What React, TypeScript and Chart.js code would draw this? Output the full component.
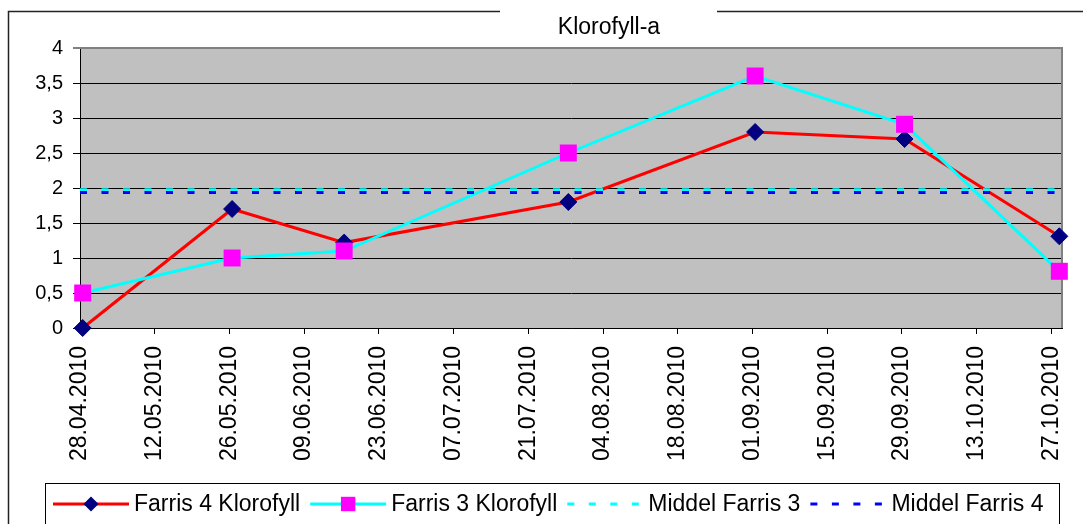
import React, { useEffect, useRef } from 'react';
import { Chart, registerables } from 'chart.js';

Chart.register(...registerables);

// ---------- data ----------
const chartTitle = 'Klorofyll-a';
const seriesLabels = ['Farris 4 Klorofyll', 'Farris 3 Klorofyll', 'Middel Farris 3', 'Middel Farris 4'];
const sampleDates = ['28.04.2010', '26.05.2010', '16.06.2010', '28.07.2010', '01.09.2010', '29.09.2010', '28.10.2010'];
const farris4 = [0, 1.7, 1.22, 1.8, 2.8, 2.7, 1.31];
const farris3 = [0.5, 1.0, 1.1, 2.5, 3.6, 2.91, 0.81];
const middelFarris3 = 1.975;
const middelFarris4 = 1.935;
const tickDates = [
  '28.04.2010', '12.05.2010', '26.05.2010', '09.06.2010', '23.06.2010', '07.07.2010', '21.07.2010',
  '04.08.2010', '18.08.2010', '01.09.2010', '15.09.2010', '29.09.2010', '13.10.2010', '27.10.2010',
];
const axisEndDate = '29.10.2010';
const yMin = 0;
const yMax = 4;
const yStep = 0.5;

// ---------- helpers ----------
const FONT = "'Liberation Sans', Arial, sans-serif";
function dayNumber(d: string) {
  const [dd, mm, yy] = d.split('.').map(Number);
  return Date.UTC(yy, mm - 1, dd) / 86400000;
}
const day0 = dayNumber(tickDates[0]);
const toX = (d: string) => dayNumber(d) - day0;
// points sit in the middle of their day, as on a date axis
const pointX = (d: string) => toX(d) + 0.5;
const xMin = 0;
const xMax = toX(axisEndDate);
const tickLabelByX: Record<number, string> = {};
tickDates.forEach((d) => { tickLabelByX[toX(d)] = d; });

const plotBg = {
  id: 'plotBg',
  beforeDraw(chart: any) {
    const { ctx, chartArea: a } = chart;
    ctx.save();
    ctx.fillStyle = '#ffffff';
    ctx.fillRect(0, 0, chart.width, chart.height);
    ctx.fillStyle = '#C0C0C0';
    ctx.fillRect(a.left, a.top, a.right - a.left, a.bottom - a.top);
    ctx.restore();
  },
  beforeDatasetsDraw(chart: any) {
    const { ctx, chartArea: a } = chart;
    ctx.save();
    ctx.strokeStyle = '#808080';
    ctx.lineWidth = 2;
    ctx.beginPath();
    ctx.moveTo(a.left, a.top);
    ctx.lineTo(a.right, a.top);
    ctx.lineTo(a.right, a.bottom);
    ctx.stroke();
    ctx.restore();
  },
};

function drawMarker(ctx: CanvasRenderingContext2D, style: string, x: number, y: number, r: number, color: string) {
  ctx.fillStyle = color;
  ctx.beginPath();
  if (style === 'rectRot') {
    ctx.moveTo(x, y - r);
    ctx.lineTo(x + r, y);
    ctx.lineTo(x, y + r);
    ctx.lineTo(x - r, y);
    ctx.closePath();
  } else {
    ctx.rect(x - r, y - r, 2 * r, 2 * r);
  }
  ctx.fill();
}

const decor = {
  id: 'decor',
  afterDraw(chart: any) {
    const { ctx } = chart;
    ctx.save();
    // outer frame
    ctx.strokeStyle = '#222';
    ctx.lineWidth = 1.5;
    ctx.beginPath();
    ctx.moveTo(8.5, 524);
    ctx.lineTo(8.5, 11.5);
    ctx.lineTo(500, 11.5);
    ctx.moveTo(717, 11.5);
    ctx.lineTo(1083, 11.5);
    ctx.stroke();

    // title
    ctx.fillStyle = '#000';
    ctx.font = `23px ${FONT}`;
    ctx.textAlign = 'center';
    ctx.textBaseline = 'alphabetic';
    ctx.fillText(chartTitle, 609, 34);

    // legend
    ctx.strokeStyle = '#000';
    ctx.lineWidth = 1;
    ctx.strokeRect(45.5, 483.5, 1014, 60);
    ctx.textAlign = 'left';
    const sy = 504;
    let x = 53;
    chart.data.datasets.forEach((ds: any) => {
      const w = 76;
      ctx.save();
      ctx.strokeStyle = ds.borderColor;
      ctx.lineWidth = 3;
      ctx.setLineDash(ds.borderDash || []);
      ctx.beginPath();
      ctx.moveTo(x, sy);
      ctx.lineTo(x + w, sy);
      ctx.stroke();
      ctx.restore();
      if (ds.pointRadius > 0) {
        drawMarker(ctx, ds.pointStyle, x + w / 2, sy, ds.pointStyle === 'rectRot' ? 7.5 : 7.2, ds.pointBackgroundColor);
      }
      ctx.fillStyle = '#000';
      ctx.fillText(ds.label, x + w + 5, 511);
      x = x + w + 5 + ctx.measureText(ds.label).width + 10;
    });
    ctx.restore();
  },
};

export default function App() {
  const ref = useRef<HTMLCanvasElement>(null);
  useEffect(() => {
    const xs = sampleDates.map(pointX);
    const chart = new Chart(ref.current as HTMLCanvasElement, {
      type: 'line',
      data: {
        datasets: [
          {
            label: seriesLabels[0],
            data: xs.map((x, i) => ({ x, y: farris4[i] })),
            borderColor: '#FF0000',
            borderWidth: 3,
            pointStyle: 'rectRot',
            pointRadius: 8.5,
            pointBackgroundColor: '#000080',
            pointBorderColor: '#000080',
            pointBorderWidth: 1,
            tension: 0,
            clip: false as any,
            order: 4,
          },
          {
            label: seriesLabels[1],
            data: xs.map((x, i) => ({ x, y: farris3[i] })),
            borderColor: '#00FFFF',
            borderWidth: 3,
            pointStyle: 'rect',
            pointRadius: 12,
            pointBackgroundColor: '#FF00FF',
            pointBorderColor: '#FF00FF',
            pointBorderWidth: 0,
            tension: 0,
            clip: false as any,
            order: 3,
          },
          {
            label: seriesLabels[2],
            data: [{ x: xMin, y: middelFarris3 }, { x: xMax, y: middelFarris3 }],
            borderColor: '#00FFFF',
            borderWidth: 3,
            borderDash: [7, 14.5],
            pointRadius: 0,
            tension: 0,
            order: 2,
          },
          {
            label: seriesLabels[3],
            data: [{ x: xMin, y: middelFarris4 }, { x: xMax, y: middelFarris4 }],
            borderColor: '#0000FF',
            borderWidth: 3,
            borderDash: [7, 14.5],
            pointRadius: 0,
            tension: 0,
            order: 1,
          },
        ] as any,
      },
      options: {
        responsive: false,
        animation: false,
        layout: { padding: { left: 0, right: 0, top: 48, bottom: 0 } },
        plugins: {
          legend: { display: false },
          title: { display: false },
          tooltip: { enabled: false },
        },
        scales: {
          x: {
            type: 'linear',
            min: xMin,
            max: xMax,
            afterFit: (s: any) => {
              s.height = 196;
              s.paddingLeft = 0;
              s.paddingRight = 21;
            },
            afterBuildTicks: (s: any) => { s.ticks = tickDates.map((d) => ({ value: toX(d) })); },
            ticks: {
              autoSkip: false,
              minRotation: 90,
              maxRotation: 90,
              padding: 12,
              color: '#000',
              font: { family: FONT, size: 23 },
              callback: (v: any) => tickLabelByX[Number(v)] ?? '',
            },
            grid: { drawOnChartArea: false, drawTicks: true, tickLength: 6, color: '#000' },
            border: { display: true, color: '#000', width: 1 },
          },
          y: {
            min: yMin,
            max: yMax,
            afterFit: (s: any) => { s.width = 80; },
            ticks: {
              stepSize: yStep,
              padding: 10,
              color: '#000',
              font: { family: FONT, size: 20 },
              callback: (v: any) => String(v).replace('.', ','),
            },
            grid: {
              color: (c: any) => (c.tick && c.tick.value === yMax ? '#808080' : '#000'),
              lineWidth: (c: any) => (c.tick && c.tick.value === yMax ? 2 : 1),
              tickLength: 7,
            },
            border: { display: true, color: '#000', width: 1 },
          },
        },
      } as any,
      plugins: [plotBg, decor],
    });
    return () => chart.destroy();
  }, []);
  return (
    <div style={{ position: 'fixed', left: 0, top: 0, width: 1083, height: 524, background: '#fff' }}>
      <canvas ref={ref} width={1083} height={524} style={{ display: 'block' }} />
    </div>
  );
}
